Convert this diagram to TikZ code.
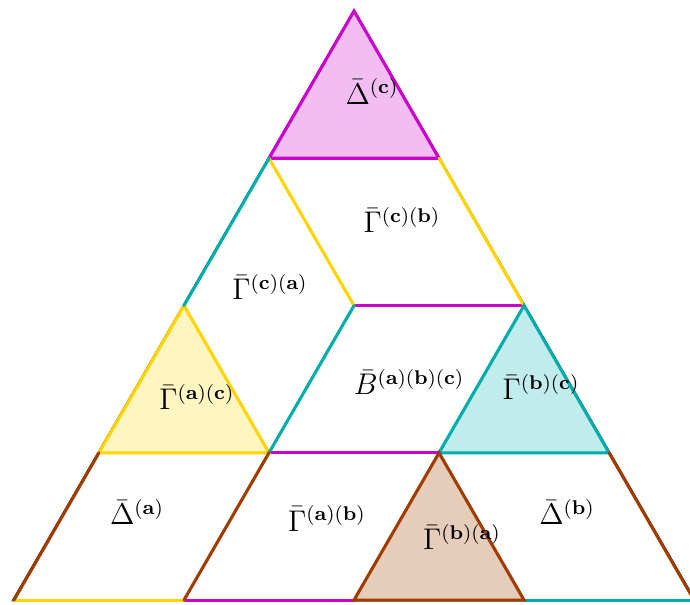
\documentclass[tikz,border=0pt]{standalone}
\usepackage{amsmath}
\definecolor{cMag}{RGB}{204,0,204}
\definecolor{cYel}{RGB}{255,212,0}
\definecolor{cCya}{RGB}{0,172,172}
\definecolor{cBro}{RGB}{160,60,0}
\definecolor{fMag}{RGB}{242,190,242}
\definecolor{fYel}{RGB}{255,245,192}
\definecolor{fCya}{RGB}{192,236,236}
\definecolor{fBro}{RGB}{229,205,185}
\begin{document}
\begin{tikzpicture}[x=2.4cm,y=2.4cm,
  edge/.style={line width=1.25pt,line cap=round},
  outl/.style={line width=0.45pt,black},
  lbl/.style={font=\large,inner sep=0pt}]
\useasboundingbox (-0.082,-0.029) rectangle (3.976,3.529);
\def\hh{0.8660254}
% grid coordinates
\coordinate (A0) at (0,0);
\coordinate (A1) at (1,0);
\coordinate (A2) at (2,0);
\coordinate (A3) at (3,0);
\coordinate (A4) at (4,0);
\coordinate (B0) at (0.5,\hh);
\coordinate (B1) at (1.5,\hh);
\coordinate (B2) at (2.5,\hh);
\coordinate (B3) at (3.5,\hh);
\coordinate (C0) at (1,2*\hh);
\coordinate (C1) at (2,2*\hh);
\coordinate (C2) at (3,2*\hh);
\coordinate (D0) at (1.5,3*\hh);
\coordinate (D1) at (2.5,3*\hh);
\coordinate (T) at (2,4*\hh);
% outer outline (slightly outside)
\coordinate (OT) at (2,4*\hh+0.008);
\coordinate (OL) at (-0.012,-0.008);
\coordinate (OR) at (4.012,-0.008);
% fills
\fill[fMag] (T) -- (D0) -- (D1) -- cycle;
\fill[fYel] (C0) -- (B0) -- (B1) -- cycle;
\fill[fCya] (C2) -- (B2) -- (B3) -- cycle;
\fill[fBro] (B2) -- (A2) -- (A3) -- cycle;
% outline
\draw[outl] (OT) -- (OL);
\draw[outl] (OT) -- (OR);
\draw[outl,black!30] (OL) -- (OR);
% magenta edges
\draw[edge,cMag] (T) -- (D0) -- (D1) -- cycle;
\draw[edge,cMag] (C1) -- (C2);
\draw[edge,cMag] (B1) -- (B2);
\draw[edge,cMag] (A1) -- (A2);
% yellow edges
\draw[edge,cYel] (D0) -- (C1);
\draw[edge,cYel] (D1) -- (C2);
\draw[edge,cYel] (C0) -- (B0) -- (B1) -- cycle;
\draw[edge,cYel] (A0) -- (A1);
% cyan edges
\draw[edge,cCya] (D0) -- (C0);
\draw[edge,cCya] (C1) -- (B1);
\draw[edge,cCya] (C2) -- (B2) -- (B3) -- cycle;
\draw[edge,cCya] (A3) -- (A4);
% brown edges
\draw[edge,cBro] (B0) -- (A0);
\draw[edge,cBro] (B1) -- (A1);
\draw[edge,cBro] (B2) -- (A2) -- (A3) -- cycle;
\draw[edge,cBro] (B3) -- (A4);
% labels
\node[lbl] (lDc) at (2.106,2.99) {$\bar\Delta^{(\mathbf{c})}$};
\node[lbl] (lGcb) at (2.282,2.235) {$\bar\Gamma^{(\mathbf{c})(\mathbf{b})}$};
\node[lbl] (lGca) at (1.506,1.841) {$\bar\Gamma^{(\mathbf{c})(\mathbf{a})}$};
\node[lbl] (lGac) at (1.076,1.194) {$\bar\Gamma^{(\mathbf{a})(\mathbf{c})}$};
\node[lbl] (lB) at (2.324,1.282) {$\bar B^{(\mathbf{a})(\mathbf{b})(\mathbf{c})}$};
\node[lbl] (lGbc) at (3.10,1.253) {$\bar\Gamma^{(\mathbf{b})(\mathbf{c})}$};
\node[lbl] (lDa) at (0.724,0.518) {$\bar\Delta^{(\mathbf{a})}$};
\node[lbl] (lGab) at (1.841,0.482) {$\bar\Gamma^{(\mathbf{a})(\mathbf{b})}$};
\node[lbl] (lGba) at (2.635,0.371) {$\bar\Gamma^{(\mathbf{b})(\mathbf{a})}$};
\node[lbl] (lDb) at (3.253,0.518) {$\bar\Delta^{(\mathbf{b})}$};
\end{tikzpicture}
\end{document}
